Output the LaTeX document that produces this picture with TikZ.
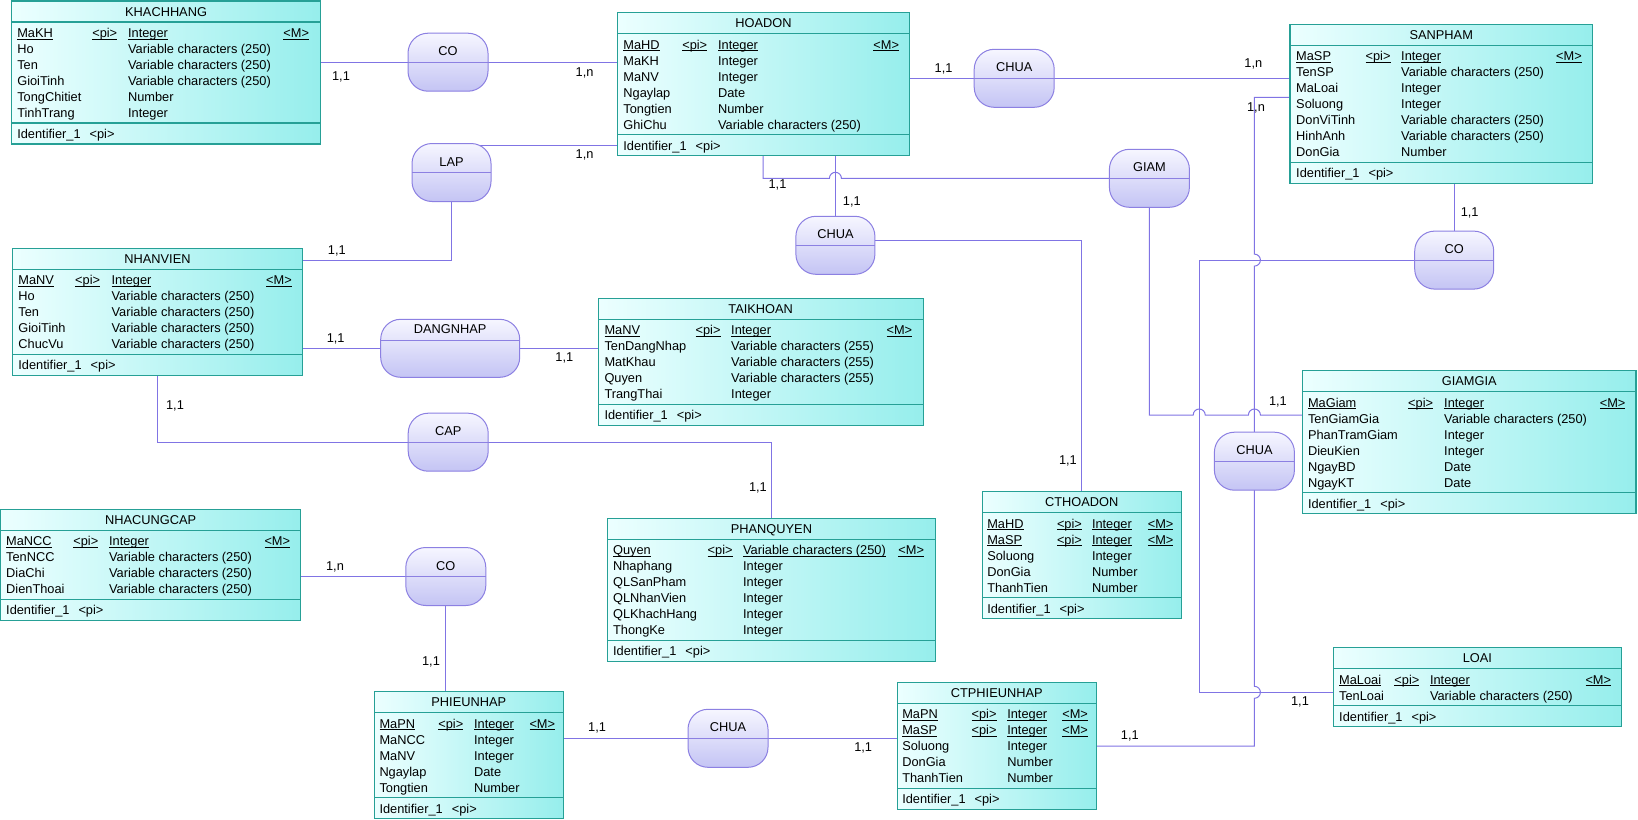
\documentclass[tikz,border=0pt]{standalone}
\usepackage{fontspec}
\setmainfont{Liberation Sans}
\usetikzlibrary{backgrounds}

\definecolor{entEdge}{RGB}{38,160,150}
\definecolor{entA}{RGB}{236,255,255}
\definecolor{entB}{RGB}{150,238,236}
\definecolor{relEdge}{RGB}{140,128,226}
\definecolor{relA}{RGB}{246,246,255}
\definecolor{relB}{RGB}{196,196,244}
\definecolor{wire}{RGB}{128,116,228}

% underline that sits just under the baseline
\newcommand\undl[1]{\setbox0\hbox{#1}\rlap{\rule[-2pt]{\wd0}{0.85pt}}\box0}

% column positions of the current entity
\newcommand\setcols[4]{\def\cA{#1}\def\cB{#2}\def\cC{#3}\def\cD{#4}}

% entity box: name, left, top, right, number of attribute rows, title
\newcommand\entity[6]{%
  \def\eT{#3}%
  \pgfmathsetmacro\eH{63+16*(#5-1)}%
  \pgfmathsetmacro\eW{#4-#2}%
  \node[entbox, anchor=north west, minimum width=\eW pt, minimum height=\eH pt] (#1) at (#2,#3) {};
  \draw[entline] ([yshift=-21pt]#1.north west) -- ([yshift=-21pt]#1.north east);
  \draw[entline] ([yshift=21pt]#1.south west) -- ([yshift=21pt]#1.south east);
  \node[enttitle] (#1-title) at ([yshift=-15.1pt]#1.north) {#6};
}
% attribute row: entity, index, name, pi, type, mandatory
\newcommand\erow[6]{%
  \node[attr] (#1-r#2) at (\cA,{\eT+36.6+16*#2})
    {\makebox[\dimexpr\cB pt-\cA pt\relax][l]{#3}\makebox[\dimexpr\cC pt-\cB pt\relax][l]{#4}\makebox[\dimexpr\cD pt-\cC pt\relax][l]{#5}#6};
}
% identifier row of an entity
\newcommand\idrow[1]{%
  \pgfmathsetmacro\eY{\eT+\eH-5.4}%
  \node[attr] (#1-id) at (\cA,\eY) {Identifier\_1\hspace{9pt}<pi>};
}
% relationship: name, cx, cy, width, label, divider lift
\newcommand\relation[6]{%
  \node[relbox, minimum width=#4pt, minimum height=58pt] (#1) at (#2,#3) {};
  \draw[relline] ([yshift=#6pt]#1.west) -- ([yshift=#6pt]#1.east);
  \pgfmathsetmacro\rT{#6+6.4}%
  \node[reltext] (#1-text) at ([yshift=\rT pt]#1.center) {#5};
}

\tikzset{
  entbox/.style={rectangle, draw=entEdge, line width=1.2pt, left color=entA, right color=entB, inner sep=0pt, outer sep=0pt},
  entline/.style={draw=entEdge, line width=1.2pt},
  enttitle/.style={inner sep=0pt, anchor=base},
  attr/.style={inner sep=0pt, anchor=base west},
  relbox/.style={rectangle, draw=relEdge, line width=1pt, top color=relA, bottom color=relB, rounded corners=20pt, inner sep=0pt, outer sep=0pt},
  relline/.style={draw=relEdge, line width=1pt},
  reltext/.style={inner sep=0pt, anchor=base},
  wirestyle/.style={draw=wire, line width=1pt},
  card/.style={inner sep=0pt},
}

\begin{document}
\begin{tikzpicture}[x=1pt, y=-1pt, font=\fontsize{12.8}{15}\selectfont]
\useasboundingbox (0,0) rectangle (1638,819);

% ---------- entities ----------
\entity{khachhang}{11.8}{1}{320.4}{6}{KHACHHANG}
\setcols{17.1}{92.1}{127.9}{283.2}
\erow{khachhang}{0}{\undl{MaKH}}{\undl{<pi>}}{\undl{Integer}}{\undl{<M>}}
\erow{khachhang}{1}{Ho}{}{Variable characters (250)}{}
\erow{khachhang}{2}{Ten}{}{Variable characters (250)}{}
\erow{khachhang}{3}{GioiTinh}{}{Variable characters (250)}{}
\erow{khachhang}{4}{TongChitiet}{}{Number}{}
\erow{khachhang}{5}{TinhTrang}{}{Integer}{}
\idrow{khachhang}

\entity{hoadon}{617.5}{12.7}{909.3}{6}{HOADON}
\setcols{623.2}{682.1}{717.9}{873.2}
\erow{hoadon}{0}{\undl{MaHD}}{\undl{<pi>}}{\undl{Integer}}{\undl{<M>}}
\erow{hoadon}{1}{MaKH}{}{Integer}{}
\erow{hoadon}{2}{MaNV}{}{Integer}{}
\erow{hoadon}{3}{Ngaylap}{}{Date}{}
\erow{hoadon}{4}{Tongtien}{}{Number}{}
\erow{hoadon}{5}{GhiChu}{}{Variable characters (250)}{}
\idrow{hoadon}

\entity{sanpham}{1290}{24.3}{1592.5}{7}{SANPHAM}
\setcols{1296}{1365.4}{1401}{1556}
\erow{sanpham}{0}{\undl{MaSP}}{\undl{<pi>}}{\undl{Integer}}{\undl{<M>}}
\erow{sanpham}{1}{TenSP}{}{Variable characters (250)}{}
\erow{sanpham}{2}{MaLoai}{}{Integer}{}
\erow{sanpham}{3}{Soluong}{}{Integer}{}
\erow{sanpham}{4}{DonViTinh}{}{Variable characters (250)}{}
\erow{sanpham}{5}{HinhAnh}{}{Variable characters (250)}{}
\erow{sanpham}{6}{DonGia}{}{Number}{}
\idrow{sanpham}

\entity{nhanvien}{12.5}{248.3}{302.5}{5}{NHANVIEN}
\setcols{18.2}{75}{111.4}{266}
\erow{nhanvien}{0}{\undl{MaNV}}{\undl{<pi>}}{\undl{Integer}}{\undl{<M>}}
\erow{nhanvien}{1}{Ho}{}{Variable characters (250)}{}
\erow{nhanvien}{2}{Ten}{}{Variable characters (250)}{}
\erow{nhanvien}{3}{GioiTinh}{}{Variable characters (250)}{}
\erow{nhanvien}{4}{ChucVu}{}{Variable characters (250)}{}
\idrow{nhanvien}

\entity{taikhoan}{598.2}{298.3}{923.2}{5}{TAIKHOAN}
\setcols{604.3}{695.4}{731}{886.4}
\erow{taikhoan}{0}{\undl{MaNV}}{\undl{<pi>}}{\undl{Integer}}{\undl{<M>}}
\erow{taikhoan}{1}{TenDangNhap}{}{Variable characters (255)}{}
\erow{taikhoan}{2}{MatKhau}{}{Variable characters (255)}{}
\erow{taikhoan}{3}{Quyen}{}{Variable characters (255)}{}
\erow{taikhoan}{4}{TrangThai}{}{Integer}{}
\idrow{taikhoan}

\entity{giamgia}{1302.4}{370.7}{1636}{6}{GIAMGIA}
\setcols{1307.8}{1408}{1444}{1599.6}
\erow{giamgia}{0}{\undl{MaGiam}}{\undl{<pi>}}{\undl{Integer}}{\undl{<M>}}
\erow{giamgia}{1}{TenGiamGia}{}{Variable characters (250)}{}
\erow{giamgia}{2}{PhanTramGiam}{}{Integer}{}
\erow{giamgia}{3}{DieuKien}{}{Integer}{}
\erow{giamgia}{4}{NgayBD}{}{Date}{}
\erow{giamgia}{5}{NgayKT}{}{Date}{}
\idrow{giamgia}

\entity{cthoadon}{982.1}{491.7}{1181.4}{5}{CTHOADON}
\setcols{987.1}{1056.8}{1091.8}{1147.6}
\erow{cthoadon}{0}{\undl{MaHD}}{\undl{<pi>}}{\undl{Integer}}{\undl{<M>}}
\erow{cthoadon}{1}{\undl{MaSP}}{\undl{<pi>}}{\undl{Integer}}{\undl{<M>}}
\erow{cthoadon}{2}{Soluong}{}{Integer}{}
\erow{cthoadon}{3}{DonGia}{}{Number}{}
\erow{cthoadon}{4}{ThanhTien}{}{Number}{}
\idrow{cthoadon}

\entity{phanquyen}{607.5}{518.3}{935.4}{6}{PHANQUYEN}
\setcols{612.9}{707.5}{742.9}{898.2}
\erow{phanquyen}{0}{\undl{Quyen}}{\undl{<pi>}}{\undl{Variable characters (250)}}{\undl{<M>}}
\erow{phanquyen}{1}{Nhaphang}{}{Integer}{}
\erow{phanquyen}{2}{QLSanPham}{}{Integer}{}
\erow{phanquyen}{3}{QLNhanVien}{}{Integer}{}
\erow{phanquyen}{4}{QLKhachHang}{}{Integer}{}
\erow{phanquyen}{5}{ThongKe}{}{Integer}{}
\idrow{phanquyen}

\entity{nhacungcap}{0.7}{509.3}{300.7}{4}{NHACUNGCAP}
\setcols{6}{73.2}{108.9}{264.3}
\erow{nhacungcap}{0}{\undl{MaNCC}}{\undl{<pi>}}{\undl{Integer}}{\undl{<M>}}
\erow{nhacungcap}{1}{TenNCC}{}{Variable characters (250)}{}
\erow{nhacungcap}{2}{DiaChi}{}{Variable characters (250)}{}
\erow{nhacungcap}{3}{DienThoai}{}{Variable characters (250)}{}
\idrow{nhacungcap}

\entity{loai}{1333.4}{647.7}{1621.3}{2}{LOAI}
\setcols{1339}{1394.2}{1429.8}{1585.3}
\erow{loai}{0}{\undl{MaLoai}}{\undl{<pi>}}{\undl{Integer}}{\undl{<M>}}
\erow{loai}{1}{TenLoai}{}{Variable characters (250)}{}
\idrow{loai}

\entity{phieunhap}{374.3}{691.7}{563.2}{5}{PHIEUNHAP}
\setcols{379.3}{438.2}{473.9}{529.3}
\erow{phieunhap}{0}{\undl{MaPN}}{\undl{<pi>}}{\undl{Integer}}{\undl{<M>}}
\erow{phieunhap}{1}{MaNCC}{}{Integer}{}
\erow{phieunhap}{2}{MaNV}{}{Integer}{}
\erow{phieunhap}{3}{Ngaylap}{}{Date}{}
\erow{phieunhap}{4}{Tongtien}{}{Number}{}
\idrow{phieunhap}

\entity{ctphieunhap}{897.1}{682.3}{1096.4}{5}{CTPHIEUNHAP}
\setcols{902.1}{971.4}{1007.1}{1062.1}
\erow{ctphieunhap}{0}{\undl{MaPN}}{\undl{<pi>}}{\undl{Integer}}{\undl{<M>}}
\erow{ctphieunhap}{1}{\undl{MaSP}}{\undl{<pi>}}{\undl{Integer}}{\undl{<M>}}
\erow{ctphieunhap}{2}{Soluong}{}{Integer}{}
\erow{ctphieunhap}{3}{DonGia}{}{Number}{}
\erow{ctphieunhap}{4}{ThanhTien}{}{Number}{}
\idrow{ctphieunhap}

% ---------- relationships ----------
\relation{co1}{448}{62.2}{80}{CO}{0}
\relation{lap}{451.5}{172.5}{79}{LAP}{0}
\relation{chua1}{1014.2}{78.3}{80}{CHUA}{0}
\relation{chua2}{835.4}{245.3}{79}{CHUA}{0}
\relation{giam}{1149.4}{178.3}{80}{GIAM}{0}
\relation{co3}{1454.2}{260.1}{79}{CO}{0}
\relation{chua3}{1254.4}{461.2}{80}{CHUA}{0}
\relation{dangnhap}{450.2}{348.3}{139}{DANGNHAP}{8}
\relation{cap}{448.2}{442.2}{80}{CAP}{0}
\relation{co2}{445.8}{576.5}{80}{CO}{0}
\relation{chua4}{728}{738.3}{80}{CHUA}{0}

% ---------- cardinalities ----------
\node[card] (k1) at (341,77) {1,1};
\node[card] (k2) at (584.6,72.7) {1,n};
\node[card] (k3) at (584.6,155) {1,n};
\node[card] (k4) at (336.8,250.7) {1,1};
\node[card] (k5) at (943.6,69.3) {1,1};
\node[card] (k6) at (1253.3,64.3) {1,n};
\node[card] (k7) at (777.5,185) {1,1};
\node[card] (k8) at (851.8,202.3) {1,1};
\node[card] (k9) at (1067.9,461) {1,1};
\node[card] (k10) at (1277.9,401.7) {1,1};
\node[card] (k11) at (1469.7,212.7) {1,1};
\node[card] (k12) at (1300,702.3) {1,1};
\node[card] (k13) at (1256,108) {1,n};
\node[card] (k14) at (1129.8,736) {1,1};
\node[card] (k15) at (335.7,339.3) {1,1};
\node[card] (k16) at (564.3,358.3) {1,1};
\node[card] (k17) at (175,405.7) {1,1};
\node[card] (k18) at (757.9,488.3) {1,1};
\node[card] (k19) at (335,566.7) {1,n};
\node[card] (k20) at (431,661.7) {1,1};
\node[card] (k21) at (597.1,728.3) {1,1};
\node[card] (k22) at (863.2,748.3) {1,1};

% ---------- connectors (behind the shapes) ----------
\begin{scope}[on background layer]
\fill[white] (0,0) rectangle (1638,819);
% KHACHHANG - CO - HOADON
\draw[wirestyle] (khachhang.east |- co1.center) -- (hoadon.west |- co1.center);
% HOADON - LAP - NHANVIEN
\draw[wirestyle] (hoadon.west |- 0,145.7) -- (lap.center |- 0,145.7);
\draw[wirestyle] (lap.center) |- (nhanvien.east |- 0,260);
% HOADON - CHUA - SANPHAM
\draw[wirestyle] (hoadon.east |- chua1.center) -- (sanpham.west |- chua1.center);
% HOADON - GIAM
\draw[wirestyle] (763.2,0 |- hoadon.south) -- (763.2,178.3) -- (829.4,178.3)
  arc[start angle=180, end angle=0, radius=6pt] -- (giam.center);
% HOADON - CHUA - CTHOADON
\draw[wirestyle] (chua2.center |- hoadon.south) -- (chua2.center);
\draw[wirestyle] (chua2.center |- 0,240) -| (cthoadon.north);
% GIAM - GIAMGIA
\draw[wirestyle] (giam.center) -- (1149.4,415) -- (1193.2,415)
  arc[start angle=180, end angle=0, radius=6pt] -- (1248.4,415)
  arc[start angle=180, end angle=0, radius=6pt] -- (giamgia.west |- 0,415);
% SANPHAM - CO - LOAI
\draw[wirestyle] (co3.center |- sanpham.south) -- (co3.center);
\draw[wirestyle] (co3.center) -| (1199.2,692.3) -- (loai.west |- 0,692.3);
% SANPHAM - CHUA - CTPHIEUNHAP
\draw[wirestyle] (sanpham.west |- 0,97.3) -- (1254.4,97.3) -- (1254.4,254.1)
  arc[start angle=90, end angle=-90, radius=6pt] -- (1254.4,686.3)
  arc[start angle=90, end angle=-90, radius=6pt] -- (1254.4,746) -- (ctphieunhap.east |- 0,746);
% NHANVIEN - DANGNHAP - TAIKHOAN
\draw[wirestyle] (nhanvien.east |- dangnhap.center) -- (taikhoan.west |- dangnhap.center);
% NHANVIEN - CAP - PHANQUYEN
\draw[wirestyle] (157.5,0 |- nhanvien.south) |- (cap.center) -| (phanquyen.north);
% NHACUNGCAP - CO - PHIEUNHAP
\draw[wirestyle] (nhacungcap.east |- co2.center) -| (co2.center |- phieunhap.north);
% PHIEUNHAP - CHUA - CTPHIEUNHAP
\draw[wirestyle] (phieunhap.east |- chua4.center) -- (ctphieunhap.west |- chua4.center);
\end{scope}
\end{tikzpicture}
\end{document}
